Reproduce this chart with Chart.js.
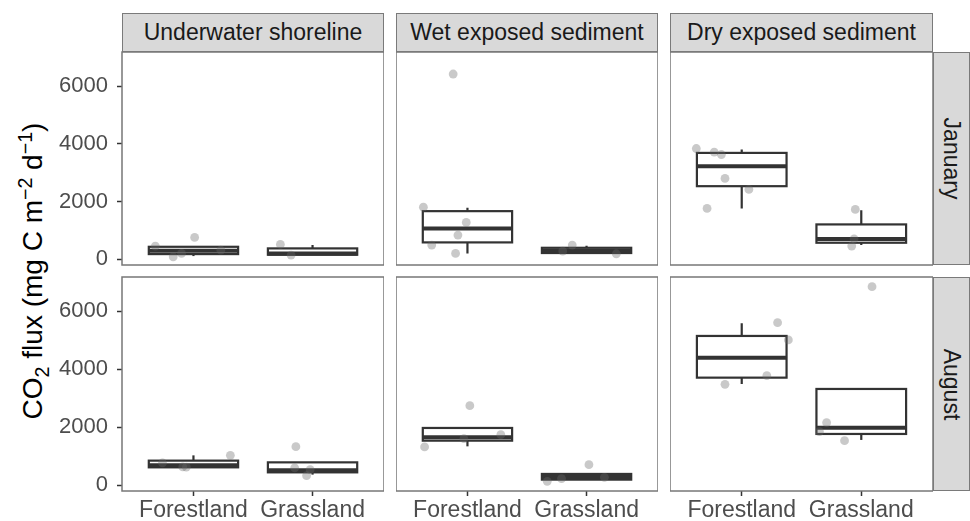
<!DOCTYPE html>
<html>
<head>
<meta charset="utf-8">
<script src="https://cdn.jsdelivr.net/npm/chart.js@4/dist/chart.umd.min.js"></script>
<style>
  html, body { margin: 0; padding: 0; background: #fff; }
  #fig { position: relative; width: 970px; height: 521px; overflow: hidden;
         font-family: "Liberation Sans", Arial, sans-serif; }
  #fig canvas { position: absolute; }
  .strip { position: absolute; box-sizing: border-box; background: #d9d9d9;
           border: 1.5px solid #7a7a7a; color: #1a1a1a; font-size: 23px;
           display: flex; align-items: center; justify-content: center; white-space: nowrap; }
  .strip.side span { display: inline-block; transform: rotate(90deg); }
  #ytitle { position: absolute; left: 33px; top: 271px; white-space: nowrap; color: #000;
            font-size: 28px; transform: translate(-50%, -50%) rotate(-90deg); }
  #ytitle sub, #ytitle sup { font-size: 0.7em; line-height: 0; }
</style>
</head>
<body>
<div id="fig">
  <div id="ytitle">CO<sub>2</sub> flux (mg C m<sup>−2</sup> d<sup>−1</sup>)</div>
</div>
<script>
// Facets and categories
const habitats = ['Underwater shoreline', 'Wet exposed sediment', 'Dry exposed sediment'];
const months = ['January', 'August'];
const landUse = ['Forestland', 'Grassland'];
const yTicks = [0, 2000, 4000, 6000];
const yRange = [-195, 7185];

// Box summaries per land use: [lower whisker, Q1, median, Q3, upper whisker]
const janUnderwaterBox = [[114, 183, 300, 436, 436], [149, 160, 200, 380, 495]];
const janWetBox        = [[207, 588, 1073, 1671, 1786], [207, 220, 300, 401, 470]];
const janDryBox        = [[1765, 2536, 3228, 3689, 3806], [495, 576, 702, 1211, 1706]];
const augUnderwaterBox = [[621, 621, 697, 852, 1034], [369, 448, 517, 793, 793]];
const augWetBox        = [[1345, 1541, 1655, 1979, 1979], [197, 197, 290, 393, 393]];
const augDryBox        = [[3497, 3714, 4403, 5152, 5586], [1566, 1772, 1990, 3324, 3324]];

// Individual measurements: [land use index, horizontal jitter, flux]
const janUnderwaterObs = [[0, -0.32, 460], [0, 0.01, 760], [0, -0.17, 90], [0, -0.10, 207], [0, 0.23, 320],
                          [1, -0.27, 519], [1, -0.18, 149]];
const janWetObs = [[0, -0.37, 1810], [0, -0.01, 1280], [0, -0.08, 841], [0, -0.30, 495], [0, -0.10, 207], [0, -0.12, 6422],
                   [1, -0.12, 495], [1, -0.20, 287], [1, 0.25, 194]];
const janDryObs = [[0, -0.38, 3841], [0, -0.23, 3713], [0, -0.17, 3633], [0, -0.14, 2803], [0, 0.06, 2422], [0, -0.29, 1765],
                   [1, -0.05, 1730], [1, -0.06, 713], [1, -0.08, 460]];
const augUnderwaterObs = [[0, -0.26, 772], [0, -0.09, 634], [0, -0.06, 630], [0, 0.31, 1034],
                          [1, -0.14, 1334], [1, -0.15, 600], [1, -0.02, 541], [1, -0.05, 334]];
const augWetObs = [[0, -0.36, 1324], [0, 0.02, 2748], [0, -0.03, 1610], [0, 0.28, 1748],
                   [1, 0.02, 714], [1, -0.33, 138], [1, -0.21, 231], [1, 0.15, 276]];
const augDryObs = [[0, 0.30, 5610], [0, 0.39, 5014], [0, 0.21, 3783], [0, -0.14, 3483],
                   [1, 0.09, 6852], [1, -0.29, 2162], [1, -0.35, 1852], [1, -0.14, 1541]];

const panelData = [
  [[janUnderwaterBox, janUnderwaterObs], [janWetBox, janWetObs], [janDryBox, janDryObs]],
  [[augUnderwaterBox, augUnderwaterObs], [augWetBox, augWetObs], [augDryBox, augDryObs]]
];

// Grid geometry
const colLeft = [122, 396, 670], colW = [262, 262, 263];
const rowTop = [52, 277], rowH = [213, 214];
const yAxisW = 72, xAxisH = 30, padV = 30;
const stripTop = 13, stripH = 39, sideStripW = 37;
const boxHalf = 0.375;
const FONT = '"Liberation Sans", Arial, sans-serif';

const fig = document.getElementById('fig');

// Box-and-whisker layer plus panel frame
const boxPlugin = {
  id: 'boxes',
  beforeDatasetsDraw(chart, args, opts) {
    const { ctx, chartArea: a, scales: { x, y } } = chart;
    ctx.save();
    ctx.beginPath();
    ctx.rect(a.left, a.top, a.width, a.height);
    ctx.clip();
    opts.stats.forEach((s, i) => {
      const cx = x.getPixelForValue(i + 1);
      const x0 = x.getPixelForValue(i + 1 - boxHalf);
      const x1 = x.getPixelForValue(i + 1 + boxHalf);
      const [lo, q1, med, q3, hi] = s.map(v => y.getPixelForValue(v));
      ctx.strokeStyle = '#333333';
      ctx.lineWidth = 2.2;
      ctx.beginPath();
      ctx.moveTo(cx, q3); ctx.lineTo(cx, hi);
      ctx.moveTo(cx, q1); ctx.lineTo(cx, lo);
      ctx.stroke();
      ctx.fillStyle = '#ffffff';
      ctx.fillRect(x0, q3, x1 - x0, q1 - q3);
      ctx.strokeRect(x0, q3, x1 - x0, q1 - q3);
      ctx.lineWidth = 4;
      ctx.beginPath();
      ctx.moveTo(x0, med); ctx.lineTo(x1, med);
      ctx.stroke();
    });
    ctx.restore();
  },
  afterDraw(chart) {
    const { ctx, chartArea: a } = chart;
    ctx.save();
    ctx.strokeStyle = '#777777';
    ctx.lineWidth = 1.5;
    ctx.strokeRect(a.left, a.top, a.width, a.height);
    ctx.restore();
  }
};

const axisGrid = { display: true, drawOnChartArea: false, drawTicks: true, tickLength: 5,
                   tickColor: '#333333', tickWidth: 1.5 };

for (let r = 0; r < 2; r++) {
  for (let c = 0; c < 3; c++) {
    const [stats, obs] = panelData[r][c];
    const showX = r === 1, showY = c === 0;
    const leftExtra = showY ? yAxisW : 0;
    const bottomExtra = showX ? xAxisH : padV;
    const cv = document.createElement('canvas');
    cv.width = colW[c] + leftExtra;
    cv.height = rowH[r] + padV + bottomExtra;
    cv.style.left = (colLeft[c] - leftExtra) + 'px';
    cv.style.top = (rowTop[r] - padV) + 'px';
    fig.appendChild(cv);

    new Chart(cv, {
      type: 'scatter',
      data: {
        datasets: [{
          data: obs.map(([g, dx, v]) => ({ x: g + 1 + dx, y: v })),
          pointRadius: 4.4,
          pointBackgroundColor: 'rgba(105,105,105,0.36)',
          pointBorderWidth: 0,
          pointHoverRadius: 4.4
        }]
      },
      options: {
        responsive: false,
        animation: false,
        devicePixelRatio: 1,
        events: [],
        layout: { autoPadding: false,
                  padding: { top: padV, bottom: showX ? 0 : padV, left: 0, right: 0 } },
        plugins: { legend: { display: false }, tooltip: { enabled: false },
                   boxes: { stats } },
        scales: {
          x: {
            type: 'linear', min: 0.4, max: 2.6, display: showX,
            afterBuildTicks: s => { s.ticks = landUse.map((_, i) => ({ value: i + 1 })); },
            afterFit: s => { if (showX) s.height = xAxisH; },
            ticks: { font: { family: FONT, size: 23 }, color: '#4d4d4d', padding: 1,
                     maxRotation: 0, autoSkip: false,
                     callback: v => landUse[Math.round(v) - 1] },
            grid: axisGrid,
            border: { display: false }
          },
          y: {
            type: 'linear', min: yRange[0], max: yRange[1], display: showY,
            afterBuildTicks: s => { s.ticks = yTicks.map(v => ({ value: v })); },
            afterFit: s => { if (showY) s.width = yAxisW; },
            ticks: { font: { family: FONT, size: 22 }, color: '#4d4d4d', padding: 9,
                     callback: v => String(v) },
            grid: axisGrid,
            border: { display: false }
          }
        }
      },
      plugins: [boxPlugin]
    });
  }
}

// Facet strips
habitats.forEach((h, c) => {
  const d = document.createElement('div');
  d.className = 'strip';
  d.style.left = colLeft[c] + 'px';
  d.style.top = stripTop + 'px';
  d.style.width = colW[c] + 'px';
  d.style.height = stripH + 'px';
  d.textContent = h;
  fig.appendChild(d);
});
months.forEach((m, r) => {
  const d = document.createElement('div');
  d.className = 'strip side';
  d.style.left = (colLeft[2] + colW[2]) + 'px';
  d.style.top = rowTop[r] + 'px';
  d.style.width = sideStripW + 'px';
  d.style.height = rowH[r] + 'px';
  const s = document.createElement('span');
  s.textContent = m;
  d.appendChild(s);
  fig.appendChild(d);
});
</script>
</body>
</html>
